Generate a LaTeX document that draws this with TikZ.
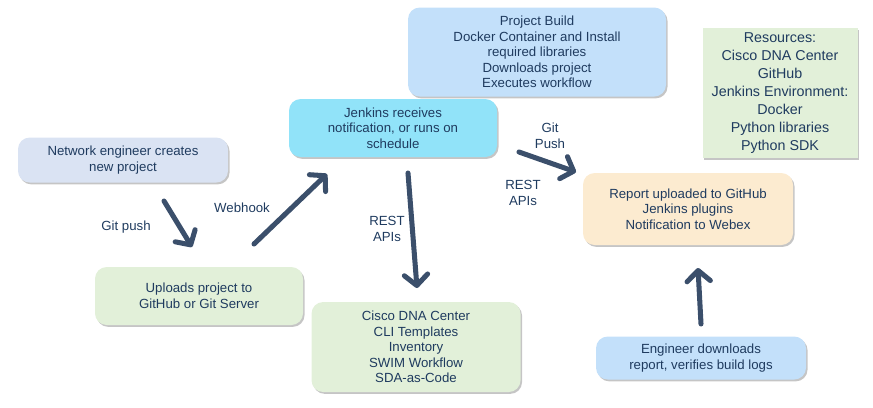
\documentclass[tikz,border=0pt]{standalone}
\usepackage{fontspec}
\setmainfont{Liberation Sans}
\usetikzlibrary{arrows.meta,shadows}
\definecolor{cink}{HTML}{1F3B5F}
\definecolor{carrow}{HTML}{3B4F6B}
\definecolor{clav}{HTML}{DAE3F3}
\definecolor{cgreen}{HTML}{E2F0D9}
\definecolor{ccyan}{HTML}{91E3F9}
\definecolor{csky}{HTML}{C3E0FA}
\definecolor{cpeach}{HTML}{FCEBD0}
\tikzset{
  box/.style={rounded corners=10pt, align=center, inner sep=0pt, text=cink,
    font=\fontsize{11.3}{13.3}\selectfont,
    drop shadow={shadow xshift=1.3pt, shadow yshift=-1.6pt, fill=black!45, opacity=.5}},
  lavbox/.style={box, fill=clav},
  greenbox/.style={box, fill=cgreen},
  cyanbox/.style={box, fill=ccyan},
  skybox/.style={box, fill=csky},
  peachbox/.style={box, fill=cpeach},
  flow/.style={draw=carrow, line width=4.3pt, line cap=round,
    -{Straight Barb[length=3.2mm, width=7mm, round]}},
  lbl/.style={font=\fontsize{11.3}{13.3}\selectfont, text=cink, align=center},
}
\begin{document}
\begin{tikzpicture}[x=0.03cm,y=-0.03cm]
\useasboundingbox (0,0) rectangle (873,407);
% boxes
\node[lavbox, minimum width=210*0.03cm, minimum height=45*0.03cm] (netEng) at (123,160)
  {Network engineer creates\\new project};
\node[greenbox, minimum width=208*0.03cm, minimum height=58*0.03cm] (upload) at (199,296)
  {Uploads project to\\GitHub or Git Server};
\node[cyanbox, minimum width=208*0.03cm, minimum height=58*0.03cm] (jenkins) at (393,128)
  {Jenkins receives\\notification, or runs on\\schedule};
\node[skybox, minimum width=258*0.03cm, minimum height=89*0.03cm] (build) at (537,52)
  {Project Build\\Docker Container and Install\\required libraries\\Downloads project\\Executes workflow};
\node[greenbox, minimum width=209*0.03cm, minimum height=90*0.03cm] (dnac) at (416,347)
  {Cisco DNA Center\\CLI Templates\\Inventory\\SWIM Workflow\\SDA-as-Code};
\node[peachbox, minimum width=210*0.03cm, minimum height=72*0.03cm] (report) at (688,209)
  {Report uploaded to GitHub\\Jenkins plugins\\Notification to Webex};
\node[skybox, minimum width=210*0.03cm, minimum height=43*0.03cm] (engDl) at (701,358)
  {Engineer downloads\\report, verifies build logs};
\node[greenbox, rounded corners=0pt, font=\fontsize{12.2}{15.3}\selectfont,
  minimum width=155*0.03cm, minimum height=130*0.03cm] (resources) at (780,93)
  {Resources:\\Cisco DNA Center\\GitHub\\Jenkins Environment:\\Docker\\Python libraries\\Python SDK};
% arrow ends
\coordinate (gpS) at (164,201);
\coordinate (gpE) at (192,247);
\coordinate (whS) at (254,244);
\coordinate (whE) at (327,174);
\coordinate (raS) at (408,173);
\coordinate (raE) at (417,288);
\coordinate (rpS) at (519,152);
\coordinate (rpE) at (576,172);
\coordinate (edS) at (701,324);
\coordinate (edE) at (698,268);
\draw[flow] (gpS) -- (gpE);
\draw[flow] (whS) -- (whE);
\draw[flow] (raS) -- (raE);
\draw[flow] (rpS) -- (rpE);
\draw[flow] (edS) -- (edE);
% labels
\node[lbl] (gpLbl) at (126,227) {Git push};
\node[lbl] (whLbl) at (242,208) {Webhook};
\node[lbl] (raLbl) at (387,229) {REST\\APIs};
\node[lbl] (rpLbl) at (550,136) {Git\\Push};
\node[lbl] (ra2Lbl) at (523,193) {REST\\APIs};
\end{tikzpicture}
\end{document}
